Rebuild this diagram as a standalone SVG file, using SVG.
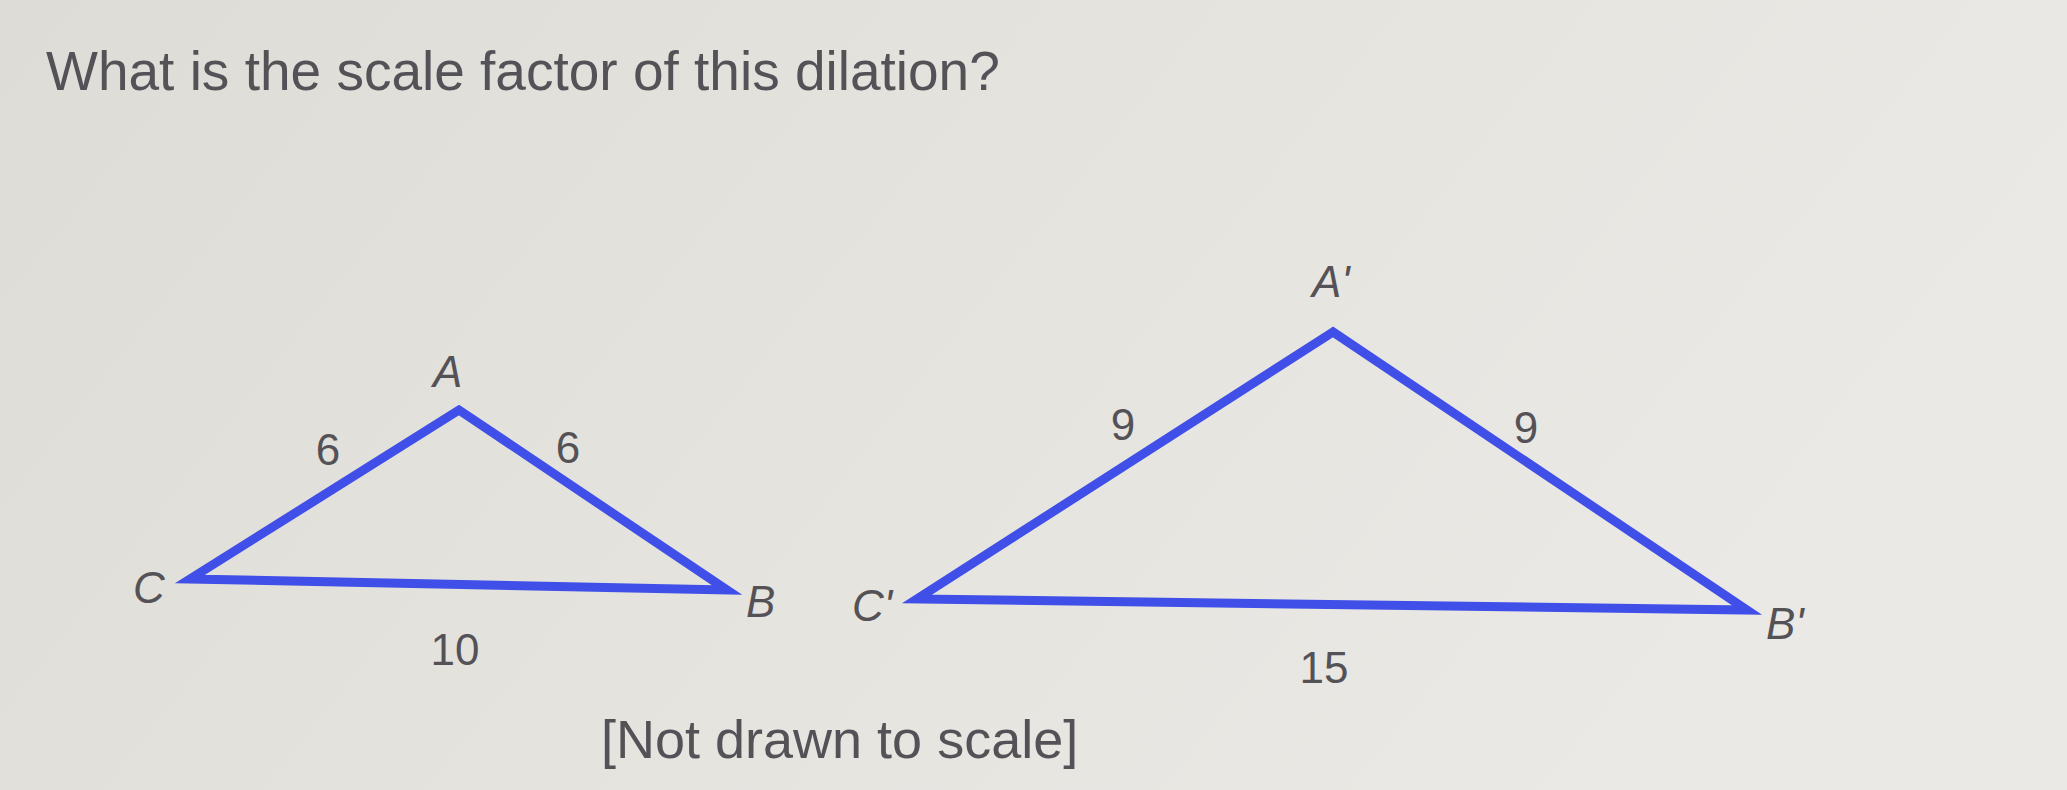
<svg xmlns="http://www.w3.org/2000/svg" width="2067" height="790" viewBox="0 0 2067 790">
  <defs>
    <linearGradient id="bg" x1="0" y1="0" x2="1" y2="0.3">
      <stop offset="0" stop-color="#dddcd6"/>
      <stop offset="0.5" stop-color="#e4e3de"/>
      <stop offset="1" stop-color="#eae9e5"/>
    </linearGradient>
  </defs>
  <style>
    .txt { font-family: "Liberation Sans", Arial, sans-serif; fill: #545256; }
    .title { font-size: 55px; }
    .note { font-size: 54px; }
    .lbl { font-size: 44px; font-style: italic; }
    .num { font-size: 44px; text-anchor: middle; }
    .tri { fill: none; stroke: #3f4fe8; stroke-width: 9; stroke-linejoin: miter; stroke-miterlimit: 6; }
  </style>
  <rect x="0" y="0" width="2067" height="790" fill="url(#bg)"/>
  <text class="txt title" x="46" y="90">What is the scale factor of this dilation?</text>

  <g id="connectors">
    <polygon id="triangle-ABC" class="tri" points="459,410 190,579 727,590"/>
    <polygon id="triangle-A1B1C1" class="tri" points="1333,332 917,599 1747,610"/>
  </g>

  <g id="node-A"><text class="txt lbl" x="433" y="387">A</text></g>
  <g id="node-B"><text class="txt lbl" x="746" y="617">B</text></g>
  <g id="node-C"><text class="txt lbl" x="133" y="603">C</text></g>
  <g id="node-A1"><text class="txt lbl" x="1312" y="297">A'</text></g>
  <g id="node-B1"><text class="txt lbl" x="1766" y="639">B'</text></g>
  <g id="node-C1"><text class="txt lbl" x="852" y="621">C'</text></g>

  <g id="side-labels">
    <text class="txt num" x="328" y="465">6</text>
    <text class="txt num" x="568" y="463">6</text>
    <text class="txt num" x="455" y="665">10</text>
    <text class="txt num" x="1123" y="440">9</text>
    <text class="txt num" x="1526" y="443">9</text>
    <text class="txt num" x="1324" y="683">15</text>
  </g>

  <text class="txt note" x="601" y="758">[Not drawn to scale]</text>
</svg>
